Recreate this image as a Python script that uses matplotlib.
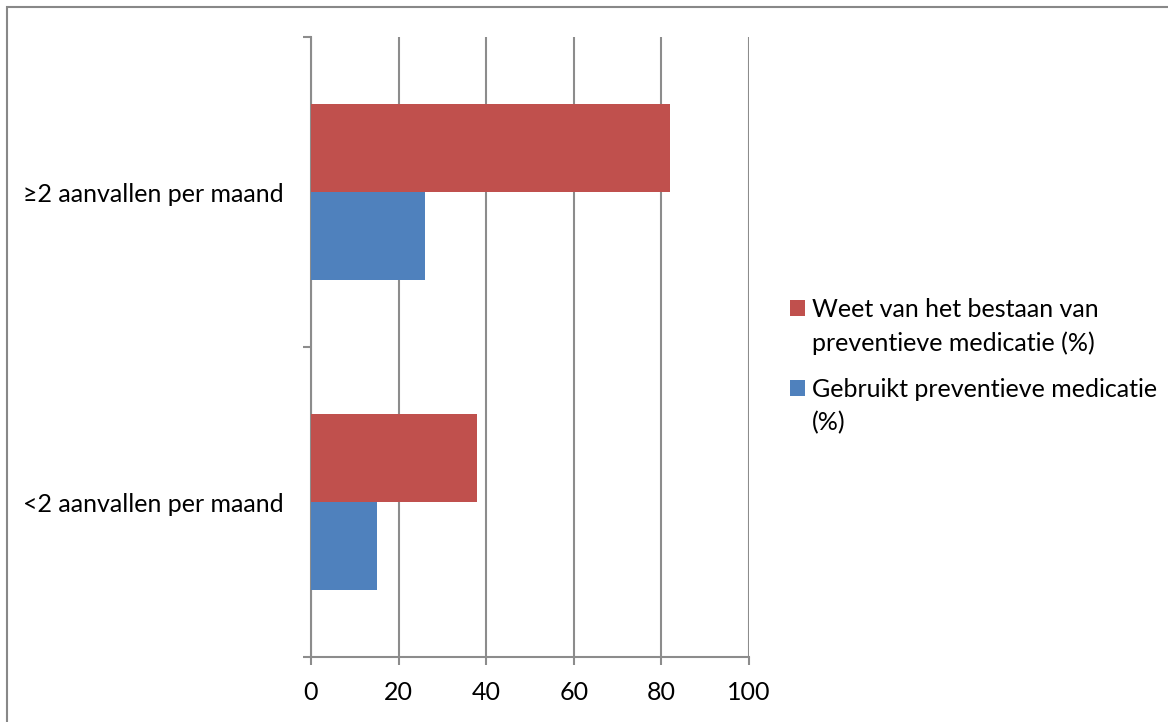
import matplotlib.pyplot as plt
from matplotlib.patches import Rectangle
from matplotlib.ticker import FixedLocator
from matplotlib.legend_handler import HandlerPatch
from matplotlib.container import BarContainer

plt.rcParams['font.family'] = ['Lato', 'DejaVu Sans']

# données
categories = ['<2 aanvallen per maand', '≥2 aanvallen per maand']
weet_van = [38, 82]
gebruikt = [15, 26]
labels = ['Weet van het bestaan van\npreventieve medicatie (%)',
          'Gebruikt preventieve medicatie\n(%)']

rood = '#C0504D'
blauw = '#4F81BD'
grijs = '#8C8C8C'
fs = 18

fig = plt.figure(figsize=(11.68, 7.22), dpi=100)
ax = fig.add_axes([311/1168, 1-657/722, 438/1168, 620/722])

centres = [0.5, 1.5]
h = 0.284
ax.barh([c + h/2 for c in centres], weet_van, height=h, color=rood, label=labels[0], zorder=3)
ax.barh([c - h/2 for c in centres], gebruikt, height=h, color=blauw, label=labels[1], zorder=3)

ax.set_xlim(0, 100)
ax.set_ylim(0, 2)
ax.set_xticks(range(0, 101, 20))
ax.set_yticks(centres)
ax.set_yticklabels(categories)
ax.yaxis.set_minor_locator(FixedLocator([0, 1, 2]))

ax.grid(axis='x', color=grijs, linewidth=1.5, zorder=0)
for s in ['top', 'right']:
    ax.spines[s].set_visible(False)
for s in ['left', 'bottom']:
    ax.spines[s].set_color(grijs)
    ax.spines[s].set_linewidth(1.5)

ax.tick_params(axis='x', which='major', length=6, width=1.5, color=grijs,
               pad=11, labelsize=fs, labelcolor='black')
ax.tick_params(axis='y', which='major', length=0, pad=20, labelsize=fs)
ax.tick_params(axis='y', which='minor', length=6, width=1.5, color=grijs)


# carré de légende aligné sur la première ligne du texte
def carre(legend, orig_handle, xdescent, ydescent, width, height, fontsize):
    return Rectangle((-xdescent, -ydescent + 0.75 * fontsize), width, height)


def maj_carre(handle, orig):
    handle.update_from(orig[0])


leg = ax.legend(loc='center left', bbox_to_anchor=(1.07, 0.469), frameon=False,
                fontsize=fs, handlelength=0.6, handleheight=0.6,
                handletextpad=0.3, labelspacing=0.95, borderaxespad=0,
                handler_map={BarContainer: HandlerPatch(patch_func=carre,
                                                        update_func=maj_carre)})
for t in leg.get_texts():
    t.set_linespacing(1.5)

# cadre autour du graphique
fig.patches.append(Rectangle((7/1168, -0.5), 2, 0.5 + 1 - 6.5/722,
                             transform=fig.transFigure, fill=False,
                             edgecolor='#888888', linewidth=1.5))

fig.savefig('out.png', dpi=100)
